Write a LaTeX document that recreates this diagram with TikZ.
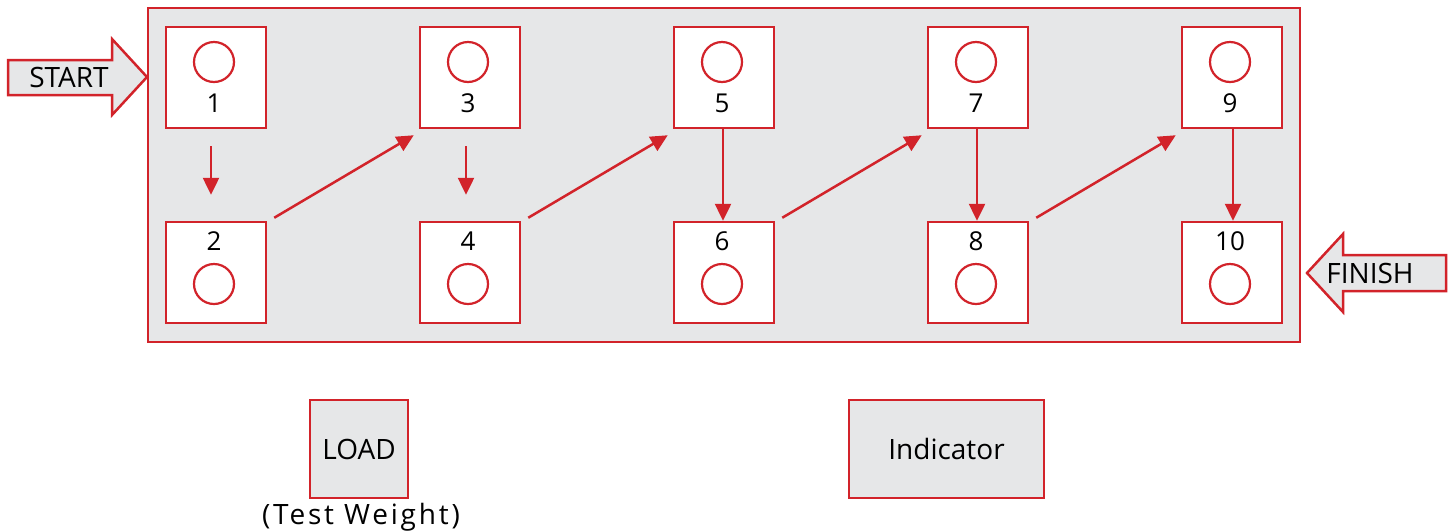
\documentclass[tikz,border=0pt]{standalone}
\usepackage{fontspec}
\setmainfont{Open Sans}
\usetikzlibrary{arrows.meta}
\definecolor{cred}{HTML}{D2232A}
\definecolor{cgray}{HTML}{E6E7E8}
\begin{document}
\begin{tikzpicture}[x=1pt,y=-1pt,
  frame/.style={draw=cred,line width=2.5pt},
  station/.style={frame,fill=white,minimum width=100pt,minimum height=101pt,inner sep=0pt},
  dot/.style={draw=cred,line width=2.2pt,circle,minimum size=40pt,inner sep=0pt},
  num/.style={font=\fontsize{26}{29}\selectfont,inner sep=0pt},
  lbl/.style={font=\fontsize{28}{31}\selectfont,inner sep=0pt},
  flow/.style={draw=cred,line width=2.5pt,-{Triangle[length=17pt,width=16pt]}},
  bigarrow/.style={frame,fill=cgray,line join=miter}
]
\useasboundingbox (0,0) rectangle (1450,531);
% main panel
\node[frame,fill=cgray,minimum width=1152pt,minimum height=334pt,inner sep=0pt] (panel) at (724,175) {};
% stations
\foreach \i/\x in {1/216,3/470,5/724,7/978,9/1232}{
  \node[station] (b\i) at (\x,77.5) {};
  \node[dot] (c\i) at (\x-2,62) {};
  \node[num] (n\i) at (\x-2,103) {\i};
}
\foreach \i/\x in {2/216,4/470,6/724,8/978,10/1232}{
  \node[station] (b\i) at (\x,272.5) {};
  \node[dot] (c\i) at (\x-2,284) {};
  \node[num] (n\i) at (\x-2,241) {\i};
}
% vertical connectors
\draw[flow,shorten <=17pt,shorten >=26pt] ([xshift=-5pt]b1.south) -- ([xshift=-5pt]b2.north);
\draw[flow,shorten <=17pt,shorten >=26pt] ([xshift=-4pt]b3.south) -- ([xshift=-4pt]b4.north);
\draw[flow] ([xshift=-1pt]b5.south) -- ([xshift=-1pt]b6.north);
\draw[flow] ([xshift=-1pt]b7.south) -- ([xshift=-1pt]b8.north);
\draw[flow] ([xshift=1pt]b9.south) -- ([xshift=1pt]b10.north);
% diagonal connectors
\draw[flow] ([shift={(7,-3)}]b2.north east) -- ([shift={(-5,6)}]b3.south west);
\draw[flow] ([shift={(7,-3)}]b4.north east) -- ([shift={(-5,6)}]b5.south west);
\draw[flow] ([shift={(7,-3)}]b6.north east) -- ([shift={(-5,6)}]b7.south west);
\draw[flow] ([shift={(7,-3)}]b8.north east) -- ([shift={(-5,6)}]b9.south west);
% START arrow
\draw[bigarrow] (8,60) -- (112,60) -- (112,39) -- (147,77) -- (112,115) -- (112,95) -- (8,95) -- cycle;
\node[lbl] (start) at (69,77.5) {START};
% FINISH arrow
\draw[bigarrow] (1446,255) -- (1343,255) -- (1343,234) -- (1307,273) -- (1343,312) -- (1343,291) -- (1446,291) -- cycle;
\node[lbl] (finish) at (1370,273) {FINISH};
% LOAD and Indicator
\node[frame,fill=cgray,minimum width=98pt,minimum height=98pt,inner sep=0pt,lbl] (load) at (359,449) {LOAD};
\node[lbl,anchor=center] (tw) at (361,517.5) {\addfontfeature{LetterSpace=10}(Test Weight)};
\node[frame,fill=cgray,minimum width=195pt,minimum height=98pt,inner sep=0pt,lbl] (ind) at (946.5,449) {Indicator};
\end{tikzpicture}
\end{document}
